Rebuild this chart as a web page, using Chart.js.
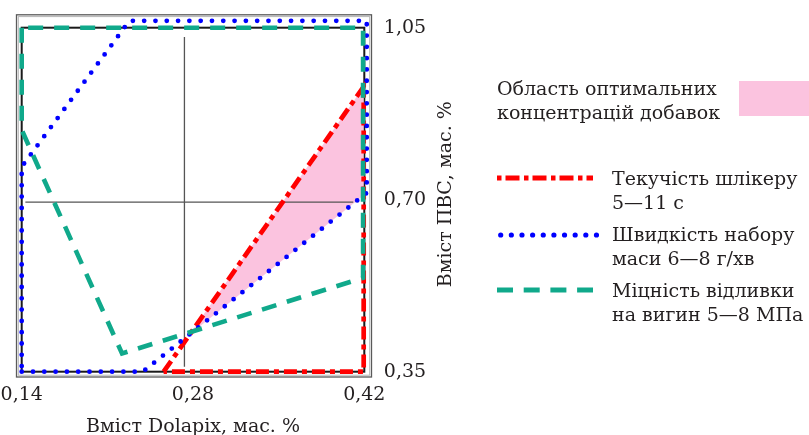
<!DOCTYPE html>
<html><head><meta charset="utf-8">
<script src="https://cdn.jsdelivr.net/npm/chart.js@4.4.1/dist/chart.umd.min.js"></script>
<style>
html,body{margin:0;padding:0;background:#fff;}
#wrap{position:relative;width:809px;height:435px;overflow:hidden;font-family:'DejaVu Serif',serif;color:#231f20;}
#c{position:absolute;left:0;top:0;}
.lg{position:absolute;font-size:19px;line-height:24px;white-space:nowrap;}
</style></head><body>
<div id="wrap">
<canvas id="c" width="809" height="435"></canvas>
<svg id="sw" style="position:absolute;left:0;top:0" width="809" height="435"></svg>
</div>
<script>
// ---- data ----
const xTickValues = [0.14, 0.28, 0.42];
const xTickLabels = ['0,14', '0,28', '0,42'];
const yTickValues = [0.35, 0.70, 1.05];
const yTickLabels = ['0,35', '0,70', '1,05'];
const xTitle = 'Вміст Dolapix, мас. %';
const yTitle = 'Вміст ПВС, мас. %';

const seriesNames = ['Текучість шлікеру\n5—11 с', 'Швидкість набору\nмаси 6—8 г/хв', 'Міцність відливки\nна вигин 5—8 МПа'];
const areaName = 'Область оптимальних\nконцентрацій добавок';

// Текучість шлікеру 5—11 с (boundary)
const flowX = [0.256, 0.4195, 0.4195, 0.256];
const flowY = [0.35, 0.93, 0.35, 0.35];
// Швидкість набору маси 6—8 г/хв (boundary)
const rateX = [0.14, 0.239, 0.422, 0.422, 0.228, 0.14, 0.14];
const rateY = [0.35, 0.35, 0.714, 1.064, 1.064, 0.767, 0.35];
// Міцність відливки на вигин 5—8 МПа (boundary)
const strX = [0.14, 0.14, 0.222, 0.419, 0.419, 0.14];
const strY = [1.05, 0.842, 0.387, 0.541, 1.05, 1.05];
// Область оптимальних концентрацій добавок
const optX = [0.277, 0.4195, 0.4195, 0.277];
const optY = [0.425, 0.93, 0.709, 0.425];
// thin reference lines
const vGuideX = [0.273, 0.273];
const vGuideY = [0.36, 1.031];
const hGuideX = [0.143, 0.411];
const hGuideY = [0.695, 0.695];

const RED = '#ff0000', BLUE = '#0000ff', GREEN = '#10a98b', PINK = '#fbc3df', INK = '#231f20';
const FONT = "'DejaVu Serif', serif";

const pts = (xs, ys) => xs.map((x, i) => ({x, y: ys[i]}));

Chart.defaults.font.family = FONT;
Chart.defaults.font.size = 19;
Chart.defaults.color = INK;

const framePlugin = {
  id: 'frame',
  beforeDatasetsDraw(chart) {
    const {ctx, chartArea: a} = chart;
    ctx.save();
    ctx.strokeStyle = '#5a5a5a'; ctx.lineWidth = 1.3;
    ctx.strokeRect(a.left - 5.2, a.top - 12.9, a.width + 12.4, a.height + 18.2);
    ctx.strokeStyle = '#b5b5b5'; ctx.lineWidth = 1;
    ctx.strokeRect(a.left - 3.4, a.top - 11.1, a.width + 8.8, a.height + 14.6);
    ctx.strokeStyle = '#1a1a1a'; ctx.lineWidth = 2;
    ctx.strokeRect(a.left, a.top, a.width, a.height);
    ctx.restore();
  },
  afterDraw(chart) {
    const {ctx, chartArea: a} = chart;
    ctx.save();
    ctx.translate(a.right + 81.7, (a.top + a.bottom) / 2 - 5.5);
    ctx.rotate(-Math.PI / 2);
    ctx.font = '19px ' + FONT;
    ctx.fillStyle = INK;
    ctx.textAlign = 'center';
    ctx.textBaseline = 'middle';
    ctx.fillText(yTitle, 0, 0);
    ctx.restore();
  }
};

const line = (label, xs, ys, color, width, dash, cap) => ({
  label, data: pts(xs, ys), showLine: true, borderColor: color, borderWidth: width,
  borderDash: dash, borderCapStyle: cap || 'butt', borderJoinStyle: 'miter',
  pointRadius: 0, tension: 0, fill: false, clip: false
});

const noPad = s => { s.paddingLeft = 0; s.paddingRight = 0; s.paddingTop = 0; s.paddingBottom = 0; };

new Chart(document.getElementById('c'), {
  type: 'scatter',
  data: {
    datasets: [
      line(seriesNames[2], strX, strY, GREEN, 4.6, [15, 11]),
      line(seriesNames[1], rateX, rateY, BLUE, 4.8, [0, 11.3], 'round'),
      line(seriesNames[0], flowX, flowY, RED, 4.7, [13, 5, 5, 5]),
      line('v', vGuideX, vGuideY, '#555', 1.3, []),
      line('h', hGuideX, hGuideY, '#555', 1.3, []),
      {label: areaName, data: pts(optX, optY), showLine: true, borderWidth: 0, borderColor: PINK,
       backgroundColor: PINK, fill: 'shape', pointRadius: 0, tension: 0, clip: false}
    ]
  },
  options: {
    responsive: false, animation: false, devicePixelRatio: 1,
    layout: {autoPadding: false, padding: {left: 21.7, top: 27.7, right: 378.7, bottom: 0}},
    plugins: {legend: {display: false}, tooltip: {enabled: false}},
    scales: {
      x: {
        type: 'linear', position: 'bottom', min: 0.14, max: 0.42,
        grid: {display: false, drawTicks: false}, border: {display: false},
        afterBuildTicks: s => { s.ticks = xTickValues.map(v => ({value: v})); },
        afterFit: s => { s.height = 63.3; noPad(s); },
        ticks: {callback: (v, i) => xTickLabels[i], padding: 12, maxRotation: 0, autoSkip: false, color: INK, font: {size: 19}},
        title: {display: true, text: xTitle, color: INK, font: {size: 19, lineHeight: 0.8}, padding: {top: 0, bottom: 0}}
      },
      y: {
        type: 'linear', position: 'right', min: 0.35, max: 1.05,
        grid: {display: false, drawTicks: false}, border: {display: false},
        afterBuildTicks: s => { s.ticks = yTickValues.map(v => ({value: v})); },
        afterFit: s => { s.width = 66; noPad(s); },
        ticks: {callback: (v, i) => yTickLabels[i], padding: 19.5, autoSkip: false, color: INK, font: {size: 19}}
      }
    }
  },
  plugins: [framePlugin]
});

// ---- legend (HTML text + SVG samples) ----
const wrap = document.getElementById('wrap');
function addText(txt, left, top) {
  const d = document.createElement('div');
  d.className = 'lg';
  d.style.left = left + 'px'; d.style.top = top + 'px';
  txt.split('\n').forEach((t, i) => { if (i) d.appendChild(document.createElement('br')); d.appendChild(document.createTextNode(t)); });
  wrap.appendChild(d);
}
addText(areaName, 497, 75.7);
const box = document.createElement('div');
Object.assign(box.style, {position: 'absolute', left: '739px', top: '81px', width: '70px', height: '35px', background: PINK});
wrap.appendChild(box);
addText(seriesNames[0], 612, 165.7);
addText(seriesNames[1], 612, 222.1);
addText(seriesNames[2], 612, 278.1);
const svg = document.getElementById('sw');
svg.innerHTML =
  `<line x1="497" y1="178" x2="593" y2="178" stroke="${RED}" stroke-width="4.8" stroke-dasharray="4.5 4 14 4.5"/>` +
  `<line x1="500.7" y1="235" x2="596.5" y2="235" stroke="${BLUE}" stroke-width="5.2" stroke-linecap="round" stroke-dasharray="0 10.64"/>` +
  `<line x1="497" y1="290" x2="593" y2="290" stroke="${GREEN}" stroke-width="5" stroke-dasharray="16 10.7"/>`;
</script>
</body></html>
